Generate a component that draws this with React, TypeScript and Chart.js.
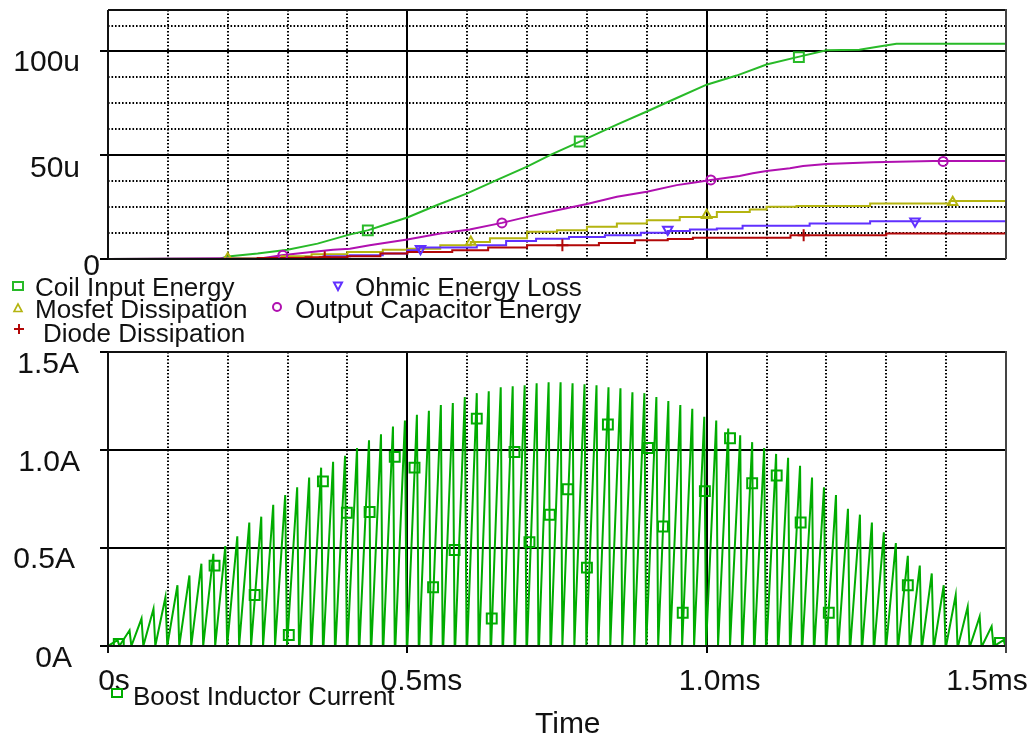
import React, { useEffect, useRef } from "react";
import { Chart, registerables } from "chart.js";

Chart.register(...registerables);

const FONT = '"Liberation Sans", Arial, Helvetica, sans-serif';

// ---------- axes ----------
const X_MIN = 0;
const X_MAX = 1.5;
const X_MAJOR = [0, 0.5, 1.0, 1.5];
const X_MINOR = [0.1, 0.2, 0.3, 0.4, 0.6, 0.7, 0.8, 0.9, 1.1, 1.2, 1.3, 1.4];
const X_TICK_LABELS = ["0s", "0.5ms", "1.0ms", "1.5ms"];

const ENERGY_MAX = 120;
const ENERGY_MAJOR = [0, 50, 100];
const ENERGY_MINOR = [12.5, 25, 37.5, 62.5, 75, 87.5, 112.5];
const ENERGY_TICK_LABELS = ["0", "50u", "100u"];

const CURRENT_MAX = 1.5;
const CURRENT_MAJOR = [0, 0.5, 1.0, 1.5];
const CURRENT_TICK_LABELS = ["0A", "0.5A", "1.0A", "1.5A"];

// ---------- top panel series: [time ms, energy uJ] ----------
const COIL_INPUT_ENERGY: number[][] = [
  [0, 0], [0.188, 0.3], [0.2, 1.2], [0.25, 2.6], [0.3, 4.5], [0.35, 7.4], [0.4, 11.5],
  [0.435, 13.9], [0.46, 16.3], [0.5, 20.0], [0.55, 26.0], [0.6, 31.6], [0.65, 38.1],
  [0.7, 44.5], [0.74, 50.3], [0.79, 56.8], [0.85, 64.8], [0.9, 71.1], [0.95, 77.6],
  [1.0, 84.0], [1.05, 88.4], [1.1, 93.7], [1.153, 97.4], [1.2, 100.6], [1.255, 100.9],
  [1.283, 102.2], [1.317, 103.7], [1.5, 103.7],
];
const OUTPUT_CAPACITOR_ENERGY: number[][] = [
  [0, 0], [0.26, 0.5], [0.29, 1.8], [0.34, 3.4], [0.376, 4.5], [0.404, 4.9], [0.437, 6.6],
  [0.5, 9.4], [0.555, 12.3], [0.604, 14.2], [0.658, 17.4], [0.7, 20.3], [0.75, 23.5],
  [0.8, 26.5], [0.85, 30.0], [0.9, 32.4], [0.95, 35.6], [0.977, 36.8], [1.007, 38.1],
  [1.055, 40.0], [1.077, 41.3], [1.1, 42.4], [1.139, 43.7], [1.161, 44.8], [1.2, 45.8],
  [1.278, 46.6], [1.378, 47.2], [1.5, 47.2],
];
const MOSFET_DISSIPATION: number[][] = [
  [0, 0], [0.2, 0.3], [0.29, 1.3], [0.34, 2.3], [0.4, 3.4], [0.459, 4.5], [0.5, 4.9],
  [0.555, 6.6], [0.606, 8.2], [0.638, 10.0], [0.7, 13.1], [0.75, 13.9], [0.8, 15.5],
  [0.85, 17.1], [0.9, 18.7], [0.955, 20.3], [1.017, 22.7], [1.072, 23.9], [1.1, 25.2],
  [1.15, 25.6], [1.273, 26.8], [1.406, 27.9], [1.5, 27.9],
];
const OHMIC_ENERGY_LOSS: number[][] = [
  [0, 0], [0.3, 0.5], [0.36, 1.3], [0.404, 1.8], [0.459, 2.6], [0.5, 4.2], [0.52, 5.5],
  [0.616, 6.6], [0.665, 8.7], [0.715, 9.7], [0.77, 10.6], [0.83, 11.5], [0.89, 12.6],
  [0.935, 13.5], [0.972, 14.2], [1.017, 14.7], [1.06, 16.0], [1.172, 17.1], [1.273, 18.2],
  [1.5, 18.2],
];
const DIODE_DISSIPATION: number[][] = [
  [0, 0], [0.25, 0.5], [0.33, 0.9], [0.4, 1.3], [0.455, 2.6], [0.5, 3.4], [0.575, 4.2],
  [0.635, 5.5], [0.7, 6.6], [0.82, 7.7], [0.88, 9.0], [0.935, 9.6], [0.977, 10.3],
  [1.14, 11.5], [1.3, 12.3], [1.5, 12.3],
];

// marker positions along each trace
const COIL_MARKERS: number[][] = [[0.434, 13.8], [0.788, 56.6], [1.154, 97.3]];
const OUTPUT_CAP_MARKERS: number[][] = [[0.292, 1.8], [0.658, 17.4], [1.007, 38.1], [1.395, 47.0]];
const MOSFET_MARKERS: number[][] = [[0.2, 0.3], [0.606, 8.2], [1.0, 21.1], [1.411, 27.4]];
const OHMIC_MARKERS: number[][] = [[0.522, 5.0], [0.935, 14.2], [1.348, 18.2]];
const DIODE_MARKERS: number[][] = [[0.362, 0.9], [0.759, 6.6], [1.162, 11.5]];

// ---------- bottom panel: boost inductor current ----------
const SWITCH_PERIOD_MS = 0.02;
const RISE_MS = 0.016;
const FALL_MS = 0.003;
const BOOST_PEAKS = [
  0.03, 0.08, 0.14, 0.19, 0.25, 0.31, 0.36, 0.42, 0.47, 0.51, 0.56, 0.63, 0.66, 0.72, 0.77,
  0.81, 0.86, 0.91, 0.94, 0.97, 1.01, 1.05, 1.08, 1.12, 1.15, 1.18, 1.2, 1.23, 1.24, 1.27,
  1.29, 1.3, 1.32, 1.325, 1.33, 1.34, 1.345, 1.345, 1.34, 1.335, 1.33, 1.32, 1.315, 1.295,
  1.29, 1.27, 1.25, 1.23, 1.21, 1.17, 1.15, 1.11, 1.075, 1.04, 1.01, 0.98, 0.96, 0.92, 0.86,
  0.81, 0.77, 0.7, 0.67, 0.63, 0.58, 0.525, 0.46, 0.41, 0.37, 0.31, 0.26, 0.2, 0.15, 0.1, 0.03,
];
const BOOST_MARKERS: number[][] = [
  [0.018, 0.01], [0.178, 0.41], [0.245, 0.26], [0.302, 0.056], [0.359, 0.84], [0.399, 0.68],
  [0.437, 0.684], [0.479, 0.965], [0.512, 0.91], [0.543, 0.3], [0.579, 0.49], [0.616, 1.16],
  [0.641, 0.14], [0.679, 0.99], [0.704, 0.53], [0.738, 0.67], [0.768, 0.8], [0.8, 0.4],
  [0.835, 1.13], [0.902, 1.01], [0.927, 0.61], [0.96, 0.17], [0.997, 0.79], [1.039, 1.06],
  [1.076, 0.83], [1.117, 0.87], [1.157, 0.63], [1.204, 0.17], [1.336, 0.31], [1.49, 0.015],
];

// ---------- styles ----------
const GREEN_TOP = "rgb(40,186,40)";
const GREEN = "rgb(0,172,0)";
const MAGENTA = "rgb(176,16,176)";
const OLIVE = "rgb(180,180,16)";
const BLUE = "rgb(96,48,255)";
const RED = "rgb(178,8,8)";

const X_LABEL_DX = [6, 14, 13, -19];
const ENERGY_LABEL_DX = [20, 0, 0];
const ENERGY_LABEL_DY = [-5, 1, -1.5];
const CURRENT_LABEL_DX = [-8, -5, 0, -1];
const CURRENT_LABEL_DY = [0, -1, 0, 0];

const pts = (arr: number[][]) => arr.map(([x, y]) => ({ x, y }));

function buildBoost() {
  const out: { x: number; y: number }[] = [];
  BOOST_PEAKS.forEach((pk, k) => {
    const t0 = k * SWITCH_PERIOD_MS;
    out.push({ x: t0, y: 0 }, { x: t0 + RISE_MS, y: pk }, { x: t0 + RISE_MS + FALL_MS, y: 0 });
  });
  out.push({ x: X_MAX, y: 0 });
  return out;
}

function seg(ctx: CanvasRenderingContext2D, x1: number, y1: number, x2: number, y2: number) {
  ctx.beginPath();
  ctx.moveTo(x1, y1);
  ctx.lineTo(x2, y2);
  ctx.stroke();
}

function framePlugin(o: any) {
  return {
    id: "pspiceFrame",
    beforeDatasetsDraw(chart: any) {
      const { ctx, chartArea: a, scales } = chart;
      const xs = scales.x;
      const ys = scales.y;
      ctx.save();
      ctx.strokeStyle = "#000";
      ctx.lineWidth = 2;
      ctx.setLineDash([1.6, 1.9]);
      o.xMinor.forEach((v: number) => {
        const p = Math.round(xs.getPixelForValue(v));
        seg(ctx, p, a.top, p, a.bottom);
      });
      o.yMinor.forEach((v: number) => {
        const p = Math.round(ys.getPixelForValue(v));
        seg(ctx, a.left, p, a.right, p);
      });
      ctx.setLineDash([]);
      ctx.lineWidth = 2;
      ctx.strokeStyle = "#000";
      o.xMajor.forEach((v: number) => {
        const p = Math.round(xs.getPixelForValue(v));
        seg(ctx, p, a.top, p, a.bottom + o.xTickLen);
      });
      o.yMajor.forEach((v: number) => {
        const p = Math.round(ys.getPixelForValue(v));
        seg(ctx, a.left - 8, p, a.right, p);
      });
      ctx.restore();
    },
    afterDatasetsDraw(chart: any) {
      const { ctx, chartArea: a } = chart;
      const l = Math.round(a.left);
      const r = Math.round(a.right);
      const t = Math.round(a.top);
      const b = Math.round(a.bottom);
      ctx.save();
      ctx.lineWidth = 2;
      ctx.strokeStyle = "#111";
      seg(ctx, l, t, l, b + o.xTickLen);
      seg(ctx, l, t, r, t);
      seg(ctx, l, b, r, b);
      ctx.strokeStyle = "#444";
      seg(ctx, r, t - 1, r, b + o.xTickLen);
      ctx.restore();
    },
    afterDraw(chart: any) {
      const { ctx, chartArea: a, scales } = chart;
      const xs = scales.x;
      const ys = scales.y;
      ctx.save();
      ctx.fillStyle = "#111";
      ctx.font = `30px ${FONT}`;
      ctx.textBaseline = "alphabetic";
      ctx.textAlign = "right";
      o.yLabelValues.forEach((v: number, i: number) => {
        const p = ys.getPixelForValue(v);
        ctx.fillText(o.yLabels[i], a.left - 28 + o.yLabelDx[i], p + 20.5 + o.yLabelDy[i]);
      });
      if (o.xLabels) {
        ctx.textAlign = "center";
        X_MAJOR.forEach((v, i) => {
          const p = xs.getPixelForValue(v);
          ctx.fillText(o.xLabels[i], p + X_LABEL_DX[i], a.bottom + 44);
        });
      }
      ctx.restore();
    },
  };
}

const lineDs = (data: any[], color: string, stepped: boolean) => ({
  data,
  borderColor: color,
  borderWidth: 2,
  pointRadius: 0,
  stepped: stepped ? "before" : false,
  tension: 0,
  fill: false,
});
const markerDs = (data: any[], color: string, style: string, radius: number, rotation = 0) => ({
  data,
  showLine: false,
  borderColor: color,
  pointBorderColor: color,
  pointBackgroundColor: "rgba(0,0,0,0)",
  pointStyle: style,
  pointRadius: radius,
  pointBorderWidth: 2,
  pointRotation: rotation,
});

const baseOptions = (ymax: number, padding: any) => ({
  responsive: false,
  maintainAspectRatio: false,
  animation: false,
  events: [],
  layout: { padding },
  plugins: { legend: { display: false }, tooltip: { enabled: false } },
  scales: {
    x: { type: "linear", min: X_MIN, max: X_MAX, display: false },
    y: { type: "linear", min: 0, max: ymax, display: false },
  },
});

function Marker({ kind, color, x, y }: { kind: string; color: string; x: number; y: number }) {
  const s = 16;
  const c = s / 2;
  let shape: any = null;
  if (kind === "square") shape = <rect x={c - 5} y={c - 4} width={10} height={8} fill="none" stroke={color} strokeWidth={2} />;
  if (kind === "tri") shape = <polygon points={`${c},${c - 4} ${c - 4},${c + 3.5} ${c + 4},${c + 3.5}`} fill="none" stroke={color} strokeWidth={1.6} />;
  if (kind === "itri") shape = <polygon points={`${c - 4},${c - 3.5} ${c + 4},${c - 3.5} ${c},${c + 4}`} fill="none" stroke={color} strokeWidth={2} />;
  if (kind === "circle") shape = <circle cx={c} cy={c} r={4} fill="none" stroke={color} strokeWidth={2} />;
  if (kind === "plus")
    shape = (
      <g stroke={color} strokeWidth={2}>
        <line x1={c - 5} y1={c} x2={c + 5} y2={c} />
        <line x1={c} y1={c - 5} x2={c} y2={c + 5} />
      </g>
    );
  return (
    <svg width={s} height={s} style={{ position: "absolute", left: x - c, top: y - c }}>
      {shape}
    </svg>
  );
}

function Txt({ x, base, size, children }: { x: number; base: number; size: number; children: any }) {
  return (
    <div
      style={{
        position: "absolute",
        left: x,
        top: base - 0.8465 * size,
        fontSize: size,
        lineHeight: `${size}px`,
        fontFamily: FONT,
        whiteSpace: "nowrap",
        color: "#111",
      }}
    >
      {children}
    </div>
  );
}

export default function App() {
  const topRef = useRef<HTMLCanvasElement>(null);
  const botRef = useRef<HTMLCanvasElement>(null);

  useEffect(() => {
    const top = new Chart(topRef.current as HTMLCanvasElement, {
      type: "line",
      data: {
        datasets: [
          markerDs(pts(COIL_MARKERS), GREEN_TOP, "rect", 7),
          markerDs(pts(OUTPUT_CAP_MARKERS), MAGENTA, "circle", 4.5),
          markerDs(pts(MOSFET_MARKERS), OLIVE, "triangle", 5.5),
          markerDs(pts(OHMIC_MARKERS), BLUE, "triangle", 5.5, 180),
          markerDs(pts(DIODE_MARKERS), RED, "cross", 6),
          lineDs(pts(DIODE_DISSIPATION), RED, true),
          lineDs(pts(OHMIC_ENERGY_LOSS), BLUE, true),
          lineDs(pts(MOSFET_DISSIPATION), OLIVE, true),
          lineDs(pts(OUTPUT_CAPACITOR_ENERGY), MAGENTA, false),
          lineDs(pts(COIL_INPUT_ENERGY), GREEN_TOP, false),
        ] as any,
      },
      options: baseOptions(ENERGY_MAX, { left: 108, right: 27, top: 10, bottom: 81 }) as any,
      plugins: [
        framePlugin({
          xMinor: X_MINOR,
          xMajor: [0.5, 1.0],
          yMinor: ENERGY_MINOR,
          yMajor: ENERGY_MAJOR,
          xTickLen: 0,
          yLabelValues: ENERGY_MAJOR,
          yLabels: ENERGY_TICK_LABELS,
          yLabelDx: ENERGY_LABEL_DX,
          yLabelDy: ENERGY_LABEL_DY,
        }) as any,
      ],
    });

    const bot = new Chart(botRef.current as HTMLCanvasElement, {
      type: "line",
      data: {
        datasets: [
          markerDs(pts(BOOST_MARKERS), GREEN, "rect", 7),
          { ...lineDs(buildBoost(), GREEN, false), borderWidth: 2 },
        ] as any,
      },
      options: baseOptions(CURRENT_MAX, { left: 108, right: 27, top: 12, bottom: 92 }) as any,
      plugins: [
        framePlugin({
          xMinor: X_MINOR,
          xMajor: X_MAJOR,
          yMinor: [],
          yMajor: CURRENT_MAJOR,
          xTickLen: 7,
          yLabelValues: CURRENT_MAJOR,
          yLabels: CURRENT_TICK_LABELS,
          yLabelDx: CURRENT_LABEL_DX,
          yLabelDy: CURRENT_LABEL_DY,
          xLabels: X_TICK_LABELS,
        }) as any,
      ],
    });

    return () => {
      top.destroy();
      bot.destroy();
    };
  }, []);

  return (
    <div style={{ position: "absolute", left: 0, top: 0, width: 1033, height: 738, background: "#fff", overflow: "hidden" }}>
      <canvas ref={topRef} width={1033} height={340} style={{ position: "absolute", left: 0, top: 0, width: 1033, height: 340 }} />
      <canvas ref={botRef} width={1033} height={398} style={{ position: "absolute", left: 0, top: 340, width: 1033, height: 398 }} />

      <Marker kind="square" color={GREEN_TOP} x={18} y={286} />
      <Txt x={35} base={296} size={26}>Coil Input Energy</Txt>
      <Marker kind="itri" color={BLUE} x={338} y={286} />
      <Txt x={355} base={296} size={26}>Ohmic Energy Loss</Txt>
      <Marker kind="tri" color={OLIVE} x={18} y={308} />
      <Txt x={35} base={318.5} size={26}>Mosfet Dissipation</Txt>
      <Marker kind="circle" color={MAGENTA} x={277} y={307} />
      <Txt x={295} base={318.5} size={26}>Output Capacitor Energy</Txt>
      <Marker kind="plus" color={RED} x={19} y={329} />
      <Txt x={43} base={342} size={26}>Diode Dissipation</Txt>

      <Marker kind="square" color={GREEN} x={117} y={693} />
      <Txt x={133} base={705.5} size={26}>Boost Inductor Current</Txt>
      <Txt x={535} base={733.5} size={30}>Time</Txt>
    </div>
  );
}
